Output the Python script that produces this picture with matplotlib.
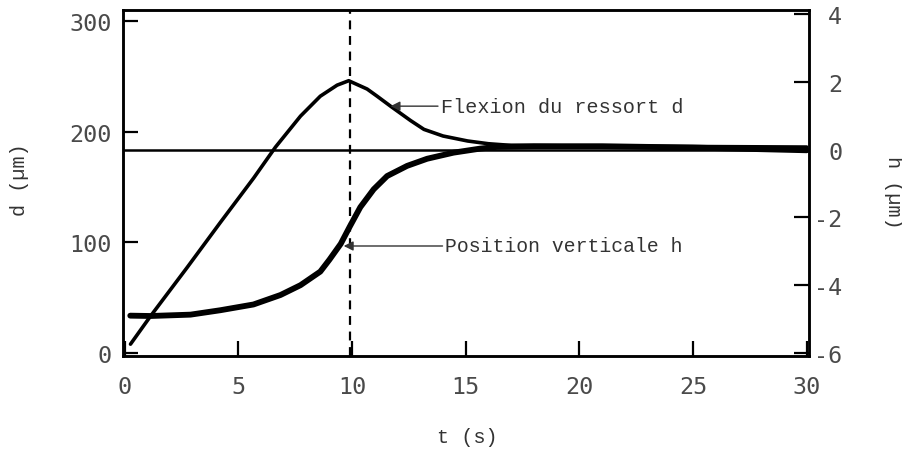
import matplotlib.pyplot as plt

plt.rcParams['font.family'] = ['Liberation Mono', 'DejaVu Sans Mono']
plt.rcParams['axes.unicode_minus'] = False

# flexion du ressort d (um), left axis
t_d = [0.25, 1.13, 2.74, 4.21, 5.67, 6.63, 7.73, 8.6, 9.34, 9.85, 10.66, 11.1, 11.69,
       12.57, 13.16, 14, 15.08, 16, 17, 20, 25, 30]
d = [7.7, 33, 77, 118, 158, 186, 214, 232, 242, 246, 238.5, 232, 223,
     210, 202, 196, 191.5, 189, 187.5, 187, 186.5, 186]

# position verticale h (um), right axis
t_h = [0.24, 1.13, 2.89, 4.2, 5.66, 6.85, 7.73, 8.6, 9.0, 9.5, 9.89, 10.36, 10.95,
       11.54, 12.42, 13.3, 14.46, 15.64, 16.37, 18, 21, 25, 30]
h = [-4.9, -4.91, -4.87, -4.74, -4.57, -4.29, -4.0, -3.6, -3.25, -2.78, -2.28, -1.7,
     -1.17, -0.78, -0.48, -0.27, -0.09, 0.03, 0.08, 0.1, 0.1, 0.06, -0.02]

t_mark = 9.9

fig = plt.figure(figsize=(9.03, 4.52), dpi=100)
ax = fig.add_axes([0.1362, 0.2102, 0.7597, 0.7655])
ax2 = ax.twinx()

ax.plot(t_d, d, color='black', lw=2.6, solid_capstyle='round')
ax2.plot(t_h, h, color='black', lw=4.2, solid_capstyle='round')
ax2.axhline(0, color='black', lw=1.8)
ax.axvline(t_mark, color='black', lw=1.6, ls=(0, (4, 3)))

ax.set_xlim(-0.08, 30.1)
ax.set_ylim(-3, 310)
ax2.set_ylim(-6.09, 4.12)
ax.set_xticks([0, 5, 10, 15, 20, 25, 30])
ax.set_yticks([0, 100, 200, 300])
ax2.set_yticks([-6, -4, -2, 0, 2, 4])

for a in (ax, ax2):
    for s in a.spines.values():
        s.set_linewidth(1.8)
ax.tick_params(axis='both', direction='in', length=11, width=1.6, labelsize=16.8,
               labelcolor='#4a4a4a', labelfontfamily='DejaVu Sans Mono')
ax.tick_params(axis='x', pad=13.5)
ax.tick_params(axis='y', pad=8)
ax2.tick_params(axis='y', direction='in', length=11, width=1.6, labelsize=16.8,
                labelcolor='#4a4a4a', pad=24, labelfontfamily='DejaVu Sans Mono')
for lab in ax2.get_yticklabels():
    lab.set_horizontalalignment('right')

ax.annotate('Flexion du ressort d', xy=(11.69, 223), xytext=(13.9, 223),
            fontsize=14.5, color='#333333', va='center', ha='left',
            arrowprops=dict(arrowstyle='-|>', color='#333333', lw=1,
                            mutation_scale=14, shrinkA=0, shrinkB=0))
ax.annotate('Position verticale h', xy=(9.63, 96.5), xytext=(14.1, 96.5),
            fontsize=14.2, color='#333333', va='center', ha='left',
            arrowprops=dict(arrowstyle='-|>', color='#333333', lw=1,
                            mutation_scale=14, shrinkA=0, shrinkB=0))

fig.text(0.022, 0.602, 'd (µm)', rotation=90, ha='center', va='center',
         fontsize=14.5, color='#333333')
fig.text(0.989, 0.575, 'h (µm)', rotation=-90, ha='center', va='center',
         fontsize=14.5, color='#333333')
fig.text(0.518, 0.031, 't (s)', ha='center', va='center',
         fontsize=14.5, color='#333333')

fig.savefig('out.png', dpi=100)
